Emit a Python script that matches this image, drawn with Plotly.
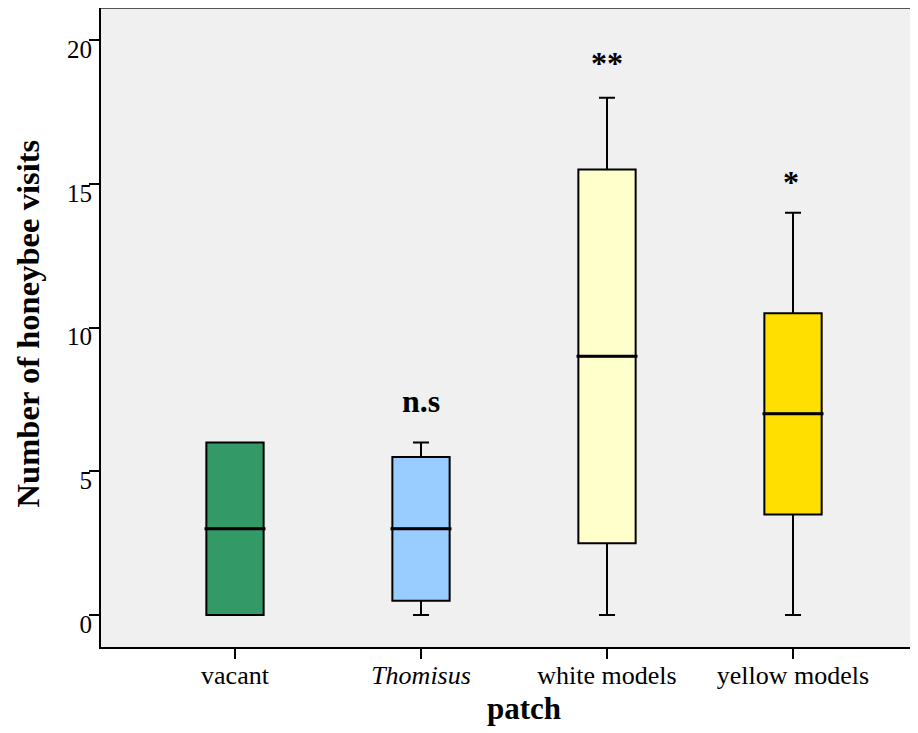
import plotly.graph_objects as go

# ---- data ----
categories = ["vacant", "Thomisus", "white models", "yellow models"]
tick_labels = ["vacant", "<i>Thomisus</i>", "white models", "yellow models"]
lower_fence = [0, 0, 0, 0]
q1 = [0, 0.5, 2.5, 3.5]
median = [3, 3, 9, 7]
q3 = [6, 5.5, 15.5, 10.5]
upper_fence = [6, 6, 18, 14]
significance = ["", "n.s", "**", "*"]
y_ticks = [0, 5, 10, 15, 20]

colors = ["#339966", "#99ccff", "#ffffcc", "#ffdf00"]
FONT = "Liberation Serif"
BOX_W = 0.308

fig = go.Figure()
for i, cat in enumerate(categories):
    fig.add_trace(go.Box(
        x=[i], q1=[q1[i]], median=[median[i]], q3=[q3[i]],
        lowerfence=[lower_fence[i]], upperfence=[upper_fence[i]],
        name=cat, width=BOX_W, whiskerwidth=0.28,
        fillcolor=colors[i], line=dict(color="black", width=2),
        boxpoints=False, showlegend=False, hoverinfo="skip",
    ))
    # thicker median line
    fig.add_trace(go.Scatter(
        x=[i - BOX_W / 2 - 0.01, i + BOX_W / 2 + 0.01], y=[median[i], median[i]],
        mode="lines", line=dict(color="black", width=3),
        showlegend=False, hoverinfo="skip",
    ))

ann_pos = {1: (1.0, 7.45), 2: (2.0, 19.2), 3: (2.99, 15.05)}
annotations = []
for i, s in enumerate(significance):
    if s:
        annotations.append(dict(
            x=ann_pos[i][0], y=ann_pos[i][1], xref="x", yref="y", text=f"<b>{s}</b>",
            showarrow=False, xanchor="center", yanchor="middle",
            font=dict(family=FONT, size=32, color="black"),
        ))
# axis titles
annotations.append(dict(
    x=0.518, y=0, xref="paper", yref="paper", text="<b>patch</b>",
    showarrow=False, xanchor="center", yanchor="top", yshift=-42,
    font=dict(family=FONT, size=31, color="black"),
))
annotations.append(dict(
    x=0, y=0.5063, xref="paper", yref="paper", text="<b>Number of honeybee visits</b>",
    showarrow=False, xanchor="center", yanchor="middle", xshift=-73, textangle=-90,
    font=dict(family=FONT, size=32.6, color="black"),
))

fig.update_layout(
    width=910, height=725,
    margin=dict(l=93, r=0, t=0, b=86),
    paper_bgcolor="white", plot_bgcolor="#f0f0f0",
    font=dict(family=FONT, color="black"),
    boxmode="overlay",
    annotations=annotations,
    shapes=[dict(type="line", xref="paper", yref="paper", x0=0, x1=1, y0=1, y1=1,
                 line=dict(color="#555555", width=2))],
)
fig.update_xaxes(
    range=[-0.7204, 3.672], tickmode="array", tickvals=list(range(len(categories))),
    ticktext=tick_labels, ticks="outside", ticklen=10, tickwidth=1.5, tickcolor="black",
    showline=True, linecolor="black", linewidth=2, showgrid=False, zeroline=False,
    automargin=False, ticklabelstandoff=-6,
    tickfont=dict(family=FONT, size=26, color="black"),
)
fig.update_yaxes(
    range=[-1.113, 21.12], tickmode="array", tickvals=y_ticks,
    ticks="outside", ticklen=10, tickwidth=1.5, tickcolor="black",
    showline=True, linecolor="black", linewidth=2, showgrid=False, zeroline=False,
    automargin=False,
    tickfont=dict(family=FONT, size=25, color="black"),
    ticklabelshift=9, ticklabelstandoff=-8,
)

fig.write_html("out.html")
